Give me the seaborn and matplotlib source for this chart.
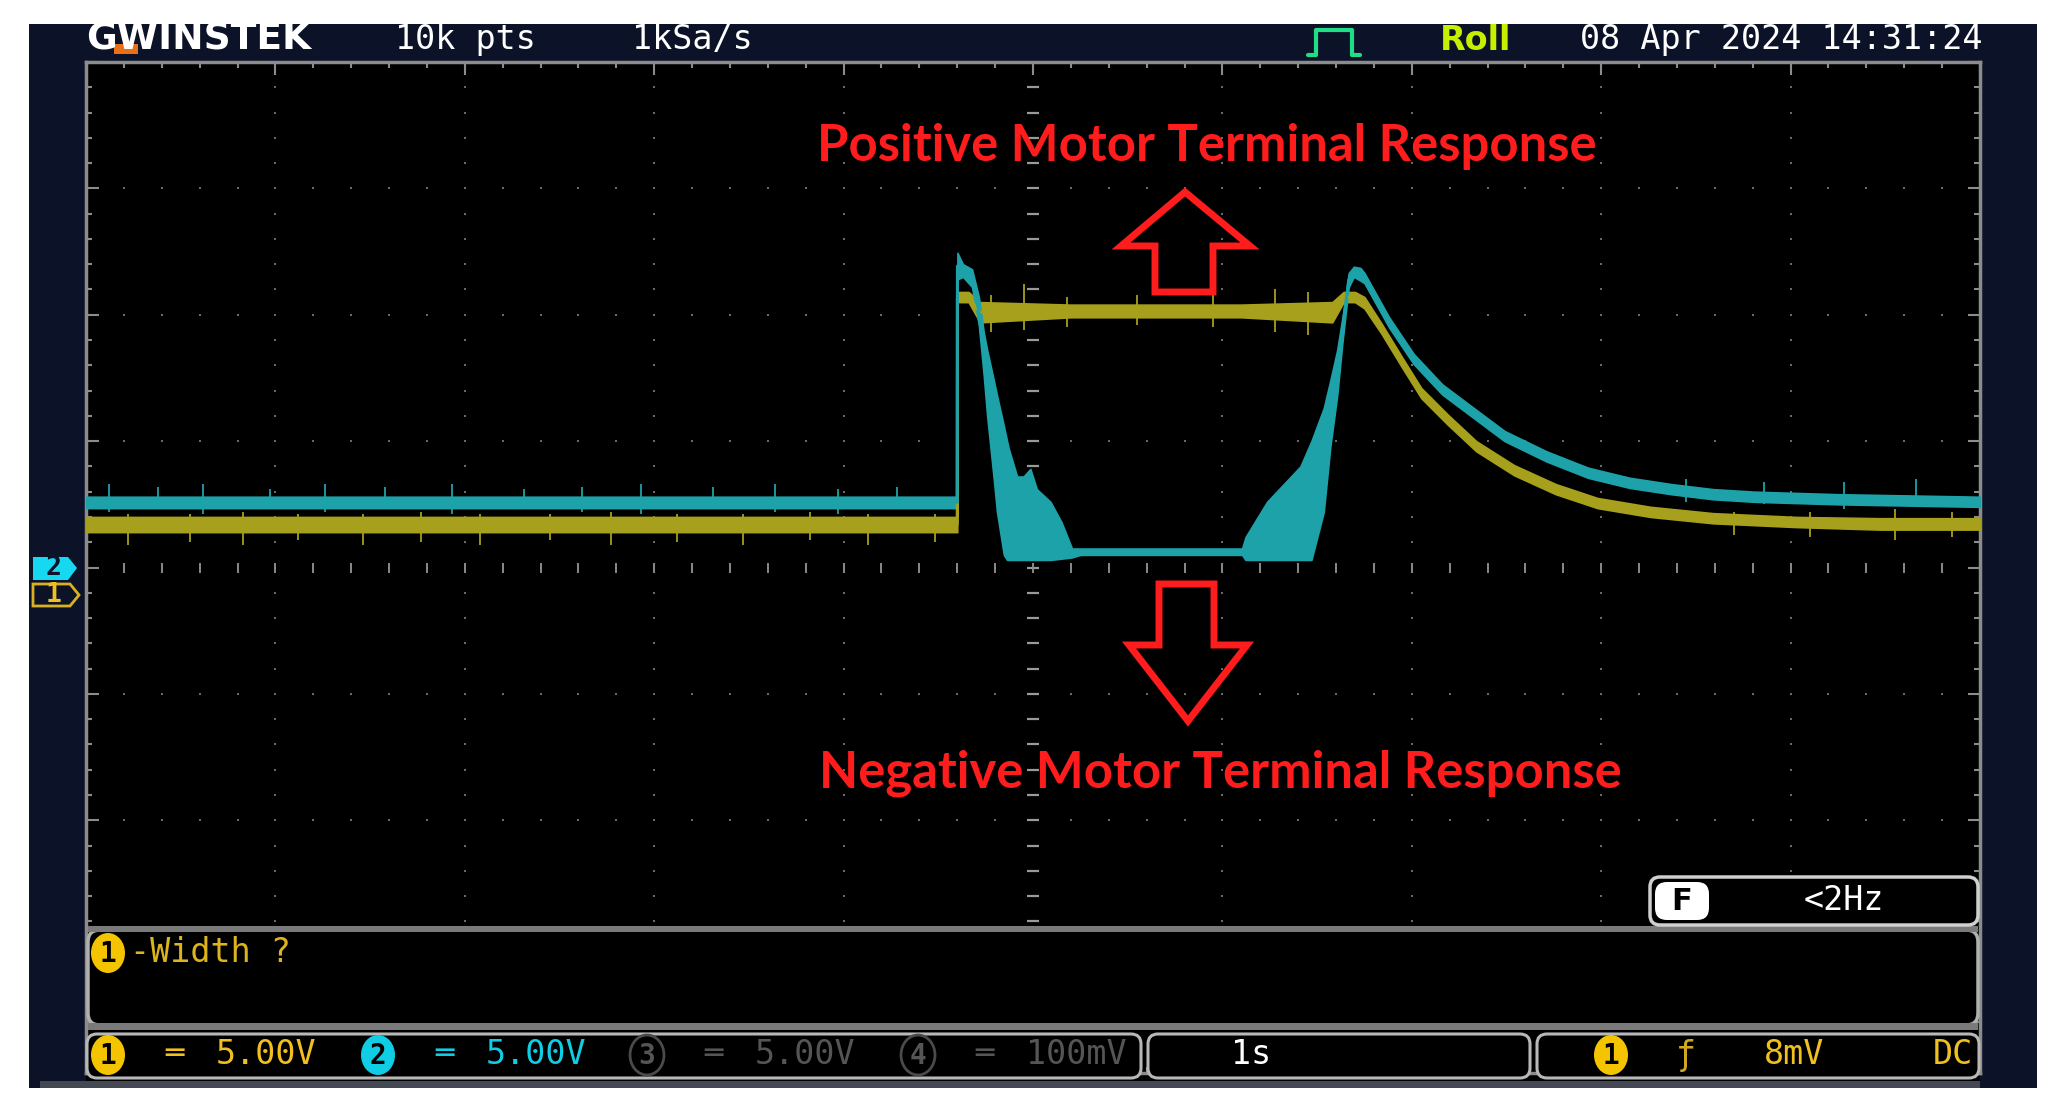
import matplotlib
matplotlib.use("Agg")
import numpy as np
import pandas as pd
import matplotlib.pyplot as plt
import seaborn as sns
from matplotlib.patches import Rectangle, FancyBboxPatch, Ellipse, Polygon
from matplotlib.ticker import MultipleLocator

# --- trace data (1 s/div, 5 V/div) ---
# CH2 (cyan), band edges in volts from its ground marker
ch2_time = [0.0, 4.60, 4.601, 4.63, 4.678, 4.714, 4.740, 4.758, 4.793, 4.810,
            4.846, 4.863, 4.872, 4.916, 4.95, 4.986, 5.02, 5.092, 5.15, 5.206,
            5.25, 6.104, 6.122, 6.236, 6.412, 6.47, 6.535, 6.570, 6.606, 6.632,
            6.650, 6.667, 6.694, 6.729, 6.75, 6.88, 7.01, 7.16, 7.32, 7.49,
            7.71, 7.93, 8.15, 8.37, 8.59, 8.81, 9.25, 10.0]
ch2_low = [2.35, 2.35, 11.4, 11.5, 11.1, 9.6, 7.6, 6.0, 3.5, 2.2,
           0.5, 0.3, 0.3, 0.3, 0.3, 0.3, 0.3, 0.3, 0.35, 0.4,
           0.5, 0.5, 0.3, 0.3, 0.3, 0.3, 2.2, 4.8, 6.8, 8.8,
           10.0, 11.1, 11.5, 11.35, 11.25, 9.5, 8.05, 6.85, 5.95, 5.0,
           4.2, 3.55, 3.15, 2.9, 2.7, 2.6, 2.5, 2.4]
ch2_high = [2.8, 2.8, 12.45, 12.0, 11.8, 10.7, 9.3, 8.6, 7.4, 6.8,
            5.6, 5.0, 4.7, 3.6, 3.6, 3.9, 3.1, 2.6, 1.8, 0.75,
            0.75, 0.75, 1.2, 2.6, 4.0, 5.0, 6.3, 7.4, 8.6, 9.8,
            10.7, 11.65, 11.9, 11.85, 11.65, 9.9, 8.45, 7.25, 6.35, 5.4,
            4.6, 3.95, 3.55, 3.3, 3.1, 3.0, 2.9, 2.8]

# CH1 (yellow), band edges in volts from its ground marker
ch1_time = [0.0, 4.60, 4.601, 4.66, 4.72, 5.20, 6.10, 6.58, 6.64, 6.70,
            6.75, 6.84, 6.95, 7.05, 7.19, 7.34, 7.54, 7.76, 7.98, 8.26,
            8.59, 9.03, 9.47, 10.0]
ch1_low = [2.5, 2.5, 11.6, 11.6, 10.8, 11.0, 11.0, 10.8, 11.6, 11.6,
           11.35, 10.35, 9.0, 7.8, 6.75, 5.7, 4.75, 4.0, 3.45, 3.1,
           2.85, 2.7, 2.6, 2.6]
ch1_high = [3.1, 3.1, 12.0, 12.0, 11.6, 11.5, 11.5, 11.6, 12.0, 12.0,
            11.8, 10.75, 9.4, 8.2, 7.15, 6.1, 5.15, 4.4, 3.85, 3.5,
            3.25, 3.1, 3.05, 3.05]

# noise spikes seen on the traces: time, bottom, top (volts)
ch2_spike_t = [0.12, 0.38, 0.62, 0.97, 1.26, 1.58, 1.93, 2.31, 2.62, 2.93,
               3.31, 3.64, 3.97, 4.28, 8.45, 8.86, 9.28, 9.66]
ch2_spike_lo = [2.2, 2.3, 2.1, 2.3, 2.2, 2.3, 2.1, 2.3, 2.2, 2.1,
                2.3, 2.2, 2.1, 2.3, 2.6, 2.5, 2.3, 2.4]
ch2_spike_hi = [3.3, 3.2, 3.3, 3.1, 3.3, 3.2, 3.3, 3.1, 3.2, 3.3,
                3.2, 3.3, 3.1, 3.2, 3.5, 3.4, 3.4, 3.5]
ch1_spike_t = [0.22, 0.55, 0.83, 1.12, 1.46, 1.77, 2.08, 2.45, 2.77, 3.12,
               3.47, 3.82, 4.13, 4.48, 4.78, 4.95, 5.18, 5.55, 5.95, 6.28,
               6.45, 8.70, 9.10, 9.55, 9.85]
ch1_spike_lo = [2.0, 2.1, 2.0, 2.2, 2.0, 2.1, 2.0, 2.2, 2.0, 2.1,
                2.0, 2.2, 2.0, 2.1, 10.4, 10.5, 10.6, 10.7, 10.6, 10.4,
                10.3, 2.4, 2.3, 2.2, 2.3]
ch1_spike_hi = [3.2, 3.2, 3.3, 3.2, 3.2, 3.3, 3.2, 3.2, 3.3, 3.2,
                3.2, 3.3, 3.2, 3.2, 11.9, 12.3, 11.8, 11.9, 11.9, 12.1,
                12.0, 3.3, 3.3, 3.4, 3.3]

ch1_offset = -1.1   # ground marker of CH1 sits 0.22 div below centre
ch2_offset = 0.0

# status bar texts
header_texts = ["10k pts", "1kSa/s"]
date_text = "08 Apr 2024 14:31:24"
volt_labels = ["5.00V", "5.00V", "5.00V", "100mV"]

CYAN = "#1ea2aa"
YELLOW = "#a6a01c"
NAVY = "#0c1328"
RED = "#ff1c1c"
GRAY = "#8c8c8c"

sns.set_theme(style="dark")
plt.rcParams["font.family"] = ["DejaVu Sans Mono", "DejaVu Sans"]

fig = plt.figure(figsize=(20.65, 11.13), dpi=100)
fig.patch.set_facecolor("white")

# background (scope bezel)
bg = fig.add_axes([0, 0, 1, 1], zorder=0)
bg.set_xlim(0, 2065)
bg.set_ylim(1113, 0)
bg.axis("off")
bg.add_patch(Rectangle((29, 24), 2008, 1064, fc=NAVY, ec="none"))
bg.add_patch(Rectangle((86, 62), 1894, 1020, fc="black", ec="none"))

# --- main scope grid ---
ax = fig.add_axes([86 / 2065, 1 - 1073 / 1113, 1894 / 2065, 1011 / 1113], zorder=1)
ax.set_facecolor("black")
ax.set_xlim(0, 10)
ax.set_ylim(-20, 20)
for s in ax.spines.values():
    s.set_color(GRAY)
    s.set_linewidth(2.5)
ax.xaxis.set_major_locator(MultipleLocator(1))
ax.xaxis.set_minor_locator(MultipleLocator(0.2))
ax.yaxis.set_major_locator(MultipleLocator(5))
ax.yaxis.set_minor_locator(MultipleLocator(1))
ax.tick_params(which="both", direction="in", top=True, right=True, bottom=True, left=True,
               labelbottom=False, labelleft=False, color=GRAY, width=1.5)
ax.tick_params(which="major", length=9)
ax.tick_params(which="minor", length=4.5)
ax.grid(False)

# dotted graticule
fine_x = np.arange(0, 10.01, 0.2)
fine_y = np.arange(-20, 20.01, 1.0)
for gx in range(1, 10):
    ax.plot(np.full_like(fine_y, gx), fine_y, ls="none", marker="s", ms=2.0,
            color="#6a6a6a", mew=0, zorder=1)
for gy in range(-15, 20, 5):
    ax.plot(fine_x, np.full_like(fine_x, gy), ls="none", marker="s", ms=2.0,
            color="#6a6a6a", mew=0, zorder=1)
ax.plot(np.full_like(fine_y, 5), fine_y, ls="none", marker="_", ms=8, mew=1.6,
        color="#9a9a9a", zorder=1)
ax.plot(fine_x, np.zeros_like(fine_x), ls="none", marker="|", ms=7, mew=1.4,
        color="#8a8a8a", zorder=1)

# traces
rows = []
for ch, t, lo, hi, off in [("CH1", ch1_time, ch1_low, ch1_high, ch1_offset),
                           ("CH2", ch2_time, ch2_low, ch2_high, ch2_offset)]:
    for a, b, c in zip(t, lo, hi):
        rows.append({"ch": ch, "t": a, "lo": b + off, "hi": c + off, "mid": (b + c) / 2 + off})
df = pd.DataFrame(rows)

spikes = {"CH1": (ch1_spike_t, ch1_spike_lo, ch1_spike_hi, ch1_offset),
          "CH2": (ch2_spike_t, ch2_spike_lo, ch2_spike_hi, ch2_offset)}
for ch, col, z in [("CH1", YELLOW, 3), ("CH2", CYAN, 4)]:
    d = df[df["ch"] == ch]
    ax.fill_between(d["t"], d["lo"], d["hi"], color=col, lw=1.2, edgecolor=col, zorder=z)
    st, slo, shi, off = spikes[ch]
    ax.vlines(st, np.array(slo) + off, np.array(shi) + off, color=col, lw=1.3, zorder=z)
sns.lineplot(data=df, x="t", y="mid", hue="ch", palette={"CH1": YELLOW, "CH2": CYAN},
             estimator=None, sort=False, legend=False, lw=2.2, ax=ax, zorder=5)
ax.set_xlabel("")
ax.set_ylabel("")

# --- overlay: annotations and scope UI ---
ov = fig.add_axes([0, 0, 1, 1], zorder=2)
ov.set_xlim(0, 2065)
ov.set_ylim(1113, 0)
ov.axis("off")
ov.patch.set_alpha(0)

ov.text(1207, 146, "Positive Motor Terminal Response", color=RED, fontsize=36.5,
        fontweight="bold", family="Lato", ha="center", va="center")
ov.text(1220, 773, "Negative Motor Terminal Response", color=RED, fontsize=36.5,
        fontweight="bold", family="Lato", ha="center", va="center")
up = [(1185, 192), (1250, 246), (1213, 246), (1213, 292), (1155, 292), (1155, 246), (1121, 246)]
down = [(1159, 584), (1214, 584), (1214, 645), (1247, 645), (1188, 721), (1129, 645), (1159, 645)]
for pts in (up, down):
    ov.add_patch(Polygon(pts, closed=True, fc="none", ec=RED, lw=5, joinstyle="miter"))

# header
ov.text(86, 40, "GWINSTEK", color="white", fontsize=27, fontweight="bold",
        family="DejaVu Sans", va="center")
ov.add_patch(Rectangle((114, 44), 24, 10, fc="#e8701a", ec="none"))
ov.text(395, 40, header_texts[0], color="white", fontsize=24, va="center")
ov.text(632, 40, header_texts[1], color="white", fontsize=24, va="center")
ov.plot([1308, 1316, 1316, 1352, 1352, 1360], [55, 55, 30, 30, 55, 55], color="#22dd88", lw=3)
ov.text(1440, 40, "Roll", color="#c6f000", fontsize=24, fontweight="bold",
        family="DejaVu Sans", va="center")
ov.text(1982, 40, date_text, color="white", fontsize=24, va="center", ha="right")
ov.add_patch(Rectangle((0, 0), 2065, 24, fc="white", ec="none", zorder=10))

# channel markers
ov.add_patch(Polygon([(33, 557), (68, 557), (77, 568), (68, 580), (33, 580)], fc="#16d8f0", ec="none"))
ov.text(53, 568, "2", color="#0c1328", fontsize=19, fontweight="bold", ha="center", va="center")
ov.add_patch(Polygon([(33, 584), (70, 584), (79, 595), (70, 606), (33, 606)], fc="none",
                     ec="#d8b020", lw=2))
ov.text(54, 595, "1", color="#f0c020", fontsize=19, fontweight="bold", ha="center", va="center")

# measurement panel
ov.add_patch(FancyBboxPatch((88, 930), 1890, 95, boxstyle="round,pad=0,rounding_size=12",
                            fc="black", ec="#b0b0b0", lw=2.5))
ov.add_patch(Rectangle((88, 926), 1890, 6, fc="#7a7a7a", ec="none"))
ov.add_patch(Rectangle((88, 1023), 1890, 7, fc="#7a7a7a", ec="none"))


def badge(x, y, num, fc, tc, ec="none"):
    ov.add_patch(Ellipse((x, y), 34, 40, fc=fc, ec=ec, lw=2))
    ov.text(x, y + 1, num, color=tc, fontsize=20, fontweight="bold", ha="center", va="center")


badge(108, 953, "1", "#f5c400", "black")
ov.text(130, 953, "-Width ?", color="#dcb41c", fontsize=24, va="center")

# frequency box
ov.add_patch(FancyBboxPatch((1650, 877), 328, 48, boxstyle="round,pad=0,rounding_size=10",
                            fc="black", ec="#d0d0d0", lw=2.5))
ov.add_patch(FancyBboxPatch((1655, 882), 54, 38, boxstyle="round,pad=0,rounding_size=12",
                            fc="white", ec="none"))
ov.text(1682, 902, "F", color="black", fontsize=22, fontweight="bold",
        family="DejaVu Sans", ha="center", va="center")
ov.text(1844, 900, "<2Hz", color="white", fontsize=24, ha="center", va="center")

# status bar
for x0, w in [(87, 1054), (1148, 382), (1537, 442)]:
    ov.add_patch(FancyBboxPatch((x0, 1034), w, 44, boxstyle="round,pad=0,rounding_size=10",
                                fc="black", ec="#b8b8b8", lw=2.2))
ov.add_patch(Rectangle((40, 1081), 1940, 7, fc="#444852", ec="none"))

chan_cols = ["#f5c400", "#10cde6", "#4a4a4a", "#4a4a4a"]
text_cols = ["#f0c020", "#10cde6", "#555555", "#555555"]
badge_x = [108, 378, 647, 918]
for i, (bx, lab) in enumerate(zip(badge_x, volt_labels)):
    if i < 2:
        badge(bx, 1055, str(i + 1), chan_cols[i], "black")
    else:
        badge(bx, 1055, str(i + 1), "none", "#555555", ec="#4a4a4a")
    ov.text(bx + 67, 1055, "\u2550", color=text_cols[i], fontsize=22, fontweight="bold",
            ha="center", va="center")
    ov.text(bx + 108, 1055, lab, color=text_cols[i], fontsize=24, va="center")

ov.text(1231, 1055, "1s", color="white", fontsize=24, va="center")
badge(1611, 1055, "1", "#f5c400", "black")
ov.text(1686, 1055, "\u0192", color="#d0a820", fontsize=24, ha="center", va="center")
ov.text(1794, 1055, "8mV", color="#f0c020", fontsize=24, ha="center", va="center")
ov.text(1973, 1055, "DC", color="#f0c020", fontsize=24, ha="right", va="center")

fig.savefig("out.png", dpi=100, facecolor="white")
